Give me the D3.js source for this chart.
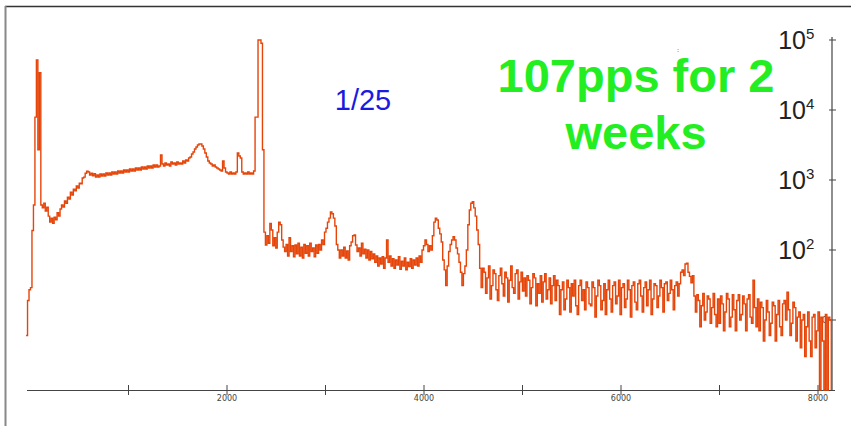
<!DOCTYPE html>
<html>
<head>
<meta charset="utf-8">
<script src="https://cdn.jsdelivr.net/npm/d3@7.9.0/dist/d3.min.js"></script>
<style>
  body { margin: 0; background: #fff; }
  svg { display: block; }
</style>
</head>
<body>
<svg id="chart" width="851" height="426"></svg>
<script>
// counts per channel bin, 15 channels each
const firstChannel = -40;
const binWidth = 15;
const counts = [
  // first peak and rise
  6, 19, 27, 29, 190, 440, 7900, 52000, 2700, 34000, 440,
  400, 465, 360, 410, 305, 250, 285, 240, 295, 270, 340, 305, 385, 440,
  410, 500, 465, 570, 535, 670, 610, 740, 700, 820, 770, 900, 880, 1070,
  1100, 1250, 1340, 1300, 1180, 1250, 1150, 1230, 1100, 1180, 1100,
  // plateau
  1220, 1140, 1220, 1140, 1260, 1180, 1260, 1180, 1300, 1220,
  1300, 1220, 1345, 1260, 1345, 1260, 1390, 1300, 1390, 1300,
  1436, 1345, 1436, 1345, 1484, 1390, 1484, 1390, 1535, 1436,
  1535, 1436, 1585, 1484, 1585, 1484, 1638, 1535, 1638, 1535,
  1585, 2276, 1693, 1585, 1750, 1638, 1693, 1585, 1808, 1693,
  1750, 1638, 1808, 1693, 1750, 1693, 1868, 1750, 1931, 1868,
  2061, 2130, 2350, 2512, 2773, 2960, 3162, 3268, 3268, 3060,
  2773, 2430, 2130, 1868, 1750, 1693, 1585, 1638, 1535, 1484,
  1436, 1390, 1345, 1868, 1484, 1300, 1260, 1220, 1300, 1220,
  1260, 1220, 1300, 2430, 2200, 2061, 1300, 1220, 1260, 1220,
  1300, 1220, 1260, 1220, 1345,
  // big peak
  7900, 7900, 130000, 110000, 90000, 2700,
  180, 118, 160, 125, 240, 193, 115, 150, 107, 180, 250, 230, 139, 110, 95,
  120, 82, 150, 95, 115, 80, 118, 88, 125, 82,
  110, 77, 120, 90, 115, 82, 125, 95, 107, 80,
  118, 90, 120, 100, 139, 120, 180, 205, 250, 285,
  350, 330, 285, 220, 120, 100, 77, 100, 82, 110,
  77, 97, 72, 115, 130, 160, 164, 118, 95, 107,
  82, 125, 88, 103, 77, 100, 72, 95, 75, 88,
  67, 82, 59, 77, 63, 80, 55, 77, 139, 67,
  82, 59, 75, 55, 72, 61, 80, 53, 69, 59,
  77, 52, 67, 58, 75, 55, 72, 61, 77, 59,
  82, 67,
  // double hump and 4500 peak
  100, 115, 139, 120, 95, 115, 100, 160, 250, 285,
  268, 205, 170, 130, 72, 52, 31, 59, 95, 120,
  139, 155, 139, 107, 88, 67, 48, 31, 46, 59,
  100, 230, 373, 465, 490, 400, 305, 193, 120, 55,
  // noisy tail
  29, 55, 48, 24, 40, 59, 20, 31, 52, 46,
  27, 19, 43, 55, 33, 22, 48, 40, 18, 37,
  59, 29, 24, 46, 52, 20, 35, 48, 26, 40,
  22, 43, 37, 17, 29, 46, 40, 16, 33, 24,
  43, 18, 35, 46, 20, 27, 40, 17, 31, 43,
  19, 37, 31, 12, 27, 35, 14, 20, 37, 29,
  13, 33, 22, 37, 16, 12, 31, 37, 19, 27,
  14, 35, 29, 17,
  16, 35, 29, 11, 22, 37, 31, 14, 19, 33,
  12, 27, 37, 20, 13, 31, 35, 17, 22, 37,
  12, 29, 33, 15, 20, 37, 27, 11, 31, 35,
  18, 14, 33, 37, 22, 13, 29, 35, 16, 27,
  37, 12, 20, 33, 31, 15, 22, 37, 29, 13,
  33, 35, 19, 24, 37, 27, 14, 31, 35, 22,
  // bump near 6700
  33, 48, 52, 43, 63, 65, 48, 42, 34, 43, 22,
  13, 23, 19, 8, 16, 24, 10, 13, 22, 20, 9, 15, 24, 12, 8, 20,
  9, 22, 17, 7, 13, 24, 20, 8, 11, 23,
  14, 7, 19, 23, 10, 12, 22, 17, 7, 20,
  23, 11, 9, 37, 15, 8, 20,
  7, 18, 15, 5, 10, 19, 13, 6, 9, 18,
  16, 5, 12, 19, 8, 6, 17, 19, 10, 25,
  14, 6, 9, 18, 15, 5, 11,
  13, 4, 10, 12, 3, 8, 13, 5, 3, 11,
  12, 4, 7, 13, 0, 11, 5, 0, 12, 0,
  11, 10
];
const xTicks = [1000, 2000, 3000, 4000, 5000, 6000, 7000, 8000];
const xTickLabels = ["", "2000", "", "4000", "", "6000", "", "8000"];
const yTicks = [10, 100, 1000, 10000, 100000];
const yTickExponents = ["1", "2", "3", "4", "5"];
const noteText = "1/25";
const titleLines = ["107pps for 2", "weeks"];

const svg = d3.select("#chart");

const x = d3.scaleLinear().domain([0, 8000]).range([30, 818]);
const y = d3.scaleLog().domain([1, 100000]).range([390, 40]).clamp(true);

// frame
svg.append("line")
  .attr("x1", 5).attr("x2", 851).attr("y1", 6.5).attr("y2", 6.5)
  .attr("stroke", "#333").attr("stroke-width", 1.5);
svg.append("line")
  .attr("x1", 5.5).attr("x2", 5.5).attr("y1", 6).attr("y2", 426)
  .attr("stroke", "#888").attr("stroke-width", 2);

// x axis
svg.append("line")
  .attr("x1", 27).attr("x2", 835).attr("y1", 390.5).attr("y2", 390.5)
  .attr("stroke", "#444").attr("stroke-width", 1.2);
xTicks.forEach((t, i) => {
  svg.append("line")
    .attr("x1", x(t)).attr("x2", x(t)).attr("y1", 385).attr("y2", 395)
    .attr("stroke", "#444").attr("stroke-width", 1);
  if (xTickLabels[i]) {
    svg.append("text")
      .attr("x", x(t)).attr("y", 401)
      .attr("text-anchor", "middle")
      .attr("font-family", "DejaVu Sans, sans-serif")
      .attr("font-size", 8)
      .attr("fill", "#444")
      .text(xTickLabels[i]);
  }
});

// y axis (right side)
const yAxisX = 832;
svg.append("line")
  .attr("x1", yAxisX).attr("x2", yAxisX).attr("y1", 37).attr("y2", 390)
  .attr("stroke", "#444").attr("stroke-width", 1.2);
yTicks.forEach((t, i) => {
  svg.append("line")
    .attr("x1", yAxisX - 3).attr("x2", yAxisX + 4)
    .attr("y1", y(t)).attr("y2", y(t))
    .attr("stroke", "#444").attr("stroke-width", 1);
  if (t >= 100) {
    const g = svg.append("g")
      .attr("font-family", "Liberation Sans, Arial, sans-serif")
      .attr("fill", "#222");
    g.append("text")
      .attr("x", 806).attr("y", y(t) + 9)
      .attr("text-anchor", "end")
      .attr("font-size", 25)
      .text("10");
    g.append("text")
      .attr("x", 806).attr("y", y(t) - 1)
      .attr("font-size", 15)
      .text(yTickExponents[i]);
  }
});
svg.append("text")
  .attr("x", 822).attr("y", 323)
  .attr("font-family", "DejaVu Sans, sans-serif")
  .attr("font-size", 8).attr("fill", "#444")
  .text("0");

// spectrum as a step line
const points = counts.map((c, i) => [firstChannel + i * binWidth, c]);
const endChannel = firstChannel + counts.length * binWidth;
points.push([endChannel, counts[counts.length - 1]]);
points.push([endChannel, 0]);

const line = d3.line()
  .x(d => x(d[0]))
  .y(d => y(Math.max(d[1], 1)))
  .curve(d3.curveStepAfter);

svg.append("path")
  .datum(points)
  .attr("d", line)
  .attr("fill", "none")
  .attr("stroke", "#e6450a")
  .attr("stroke-width", 1.4);

// annotations
svg.append("text")
  .attr("x", 677).attr("y", 52)
  .attr("font-family", "DejaVu Sans, sans-serif")
  .attr("font-size", 6).attr("fill", "#333")
  .text(":");

svg.append("text")
  .attr("x", 363).attr("y", 110)
  .attr("text-anchor", "middle")
  .attr("font-family", "Liberation Sans, Arial, sans-serif")
  .attr("font-size", 29)
  .attr("fill", "#1a1ae0")
  .text(noteText);

titleLines.forEach((s, i) => {
  svg.append("text")
    .attr("x", 636).attr("y", 92 + i * 57)
    .attr("text-anchor", "middle")
    .attr("font-family", "Liberation Sans, Arial, sans-serif")
    .attr("font-weight", "bold")
    .attr("font-size", 47)
    .attr("fill", "#22ee22")
    .text(s);
});
</script>
</body>
</html>
